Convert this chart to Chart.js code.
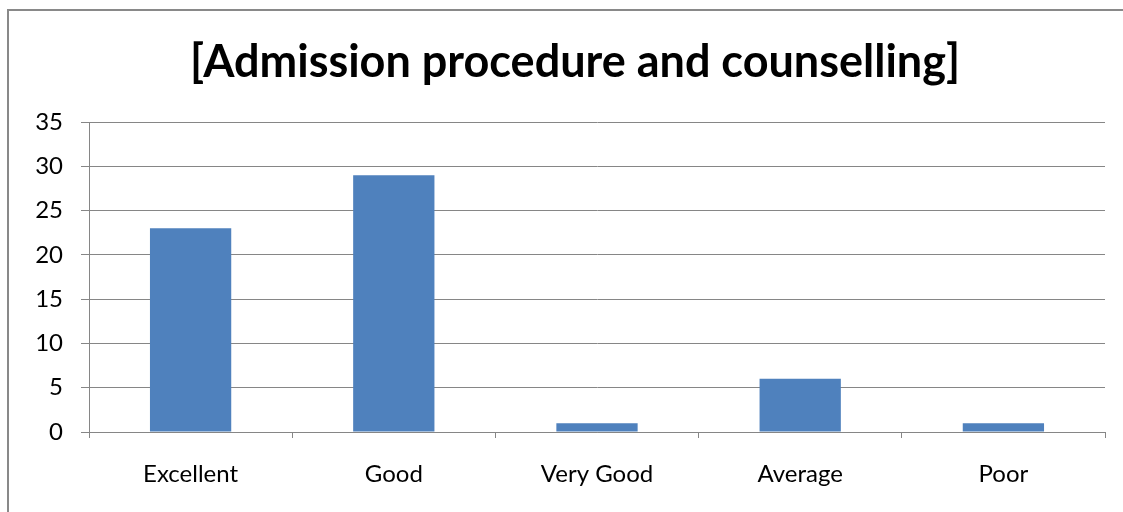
<!DOCTYPE html>
<html>
<head>
<meta charset="utf-8">
<script src="https://cdn.jsdelivr.net/npm/chart.js@4/dist/chart.umd.min.js"></script>
<style>
    body { margin: 0; background: #fff; overflow: hidden; }
    .frame {
        position: absolute; left: 7px; top: 9px;
        width: 2000px; height: 2000px;
        border-left: 2px solid #898989; border-top: 2px solid #898989;
    }
    .wrap { position: absolute; left: 0; top: 0; width: 1123px; height: 512px; }
</style>
</head>
<body>
<div class="frame"></div>
<div class="wrap"><canvas id="myChart" width="1123" height="512"></canvas></div>
<script>
// data
const categories = ['Excellent', 'Good', 'Very Good', 'Average', 'Poor']
const values = [23, 29, 1, 6, 1]
const yTicks = [0, 5, 10, 15, 20, 25, 30, 35]
const chartTitle = '[Admission procedure and counselling]'

const axisGray = '#868686'

// title is a bit right of the plot centre, so draw it ourselves
const titlePlugin = {
    id: 'titleText',
    afterDraw(chart) {
        const c = chart.ctx
        c.save()
        c.fillStyle = '#000'
        c.font = 'bold 45px Lato'
        c.textAlign = 'center'
        c.textBaseline = 'middle'
        c.fillText(chartTitle, 575, 62)
        c.restore()
    }
}

const ctx = document.getElementById('myChart').getContext('2d');
const myChart = new Chart(ctx, {
    type: 'bar',
    data: {
        labels: categories,
        datasets: [{
            label: chartTitle,
            data: values,
            backgroundColor: '#4F81BD',
            borderWidth: 0,
            categoryPercentage: 1,
            barPercentage: 0.4
        }]
    },
    plugins: [titlePlugin],
    options: {
        responsive: false,
        animation: false,
        layout: { padding: { left: 0, right: 18, top: 122, bottom: 0 } },
        plugins: {
            legend: { display: false },
            tooltip: { enabled: false },
            title: { display: false }
        },
        scales: {
            y: {
                min: 0,
                max: 35,
                afterBuildTicks: (scale) => {
                    scale.ticks = yTicks.map(v => ({ value: v }))
                },
                afterFit: (scale) => { scale.width = 89 },
                grid: { color: axisGray, lineWidth: 1, tickLength: 8 },
                border: { color: axisGray, width: 1 },
                ticks: {
                    color: '#000',
                    padding: 18,
                    font: { family: 'Lato', size: 24 }
                }
            },
            x: {
                afterFit: (scale) => { scale.height = 80 },
                grid: { color: axisGray, drawOnChartArea: false, tickLength: 6, offset: true },
                border: { color: axisGray, width: 1 },
                ticks: {
                    color: '#000',
                    padding: 22,
                    maxRotation: 0,
                    font: { family: 'Lato', size: 24 }
                }
            }
        }
    }
});
</script>
</body>
</html>
